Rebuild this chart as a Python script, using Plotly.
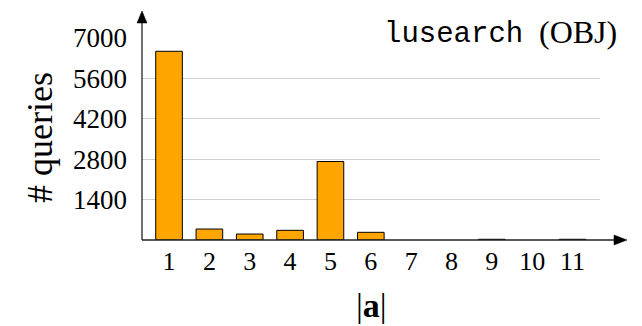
import plotly.graph_objects as go

# |a| sizes and the number of queries observed for each
sizes = [1, 2, 3, 4, 5, 6, 7, 8, 9, 10, 11]
queries = [6540, 380, 207, 335, 2720, 266, 0, 0, 25, 0, 25]
y_ticks = [1400, 2800, 4200, 5600, 7000]

W, H = 642, 326
L, R, T, B = 142, 42, 38, 86          # plot box: x 142..600, y 38..240
pw, ph = W - L - R, H - T - B

def px(x):   # pixel x -> paper
    return (x - L) / pw

def py(y):   # pixel y -> paper
    return (H - B - y) / ph

serif = "Liberation Serif"
mono = "Liberation Mono"

fig = go.Figure()
fig.add_trace(go.Bar(
    x=sizes, y=queries, width=0.66,
    marker=dict(color="#FFA500",
                line=dict(color="black", width=[1 if q > 0 else 0 for q in queries])),
))

fig.update_layout(
    width=W, height=H,
    margin=dict(l=L, r=R, t=T, b=B),
    paper_bgcolor="white", plot_bgcolor="white",
    showlegend=False,
    font=dict(family=serif, size=27, color="black"),
    xaxis=dict(range=[0.33, 11.68], tickvals=sizes, ticktext=[str(s) for s in sizes],
               showgrid=False, zeroline=False, showline=False, ticks="",
               ticklabelstandoff=3, tickfont=dict(family=serif, size=26)),
    yaxis=dict(range=[0, 7000], tickvals=y_ticks, showgrid=True,
               gridcolor="#cfcfcf", gridwidth=1, zeroline=False, showline=False,
               ticks="", ticklabelstandoff=14, tickfont=dict(family=serif, size=27)),
)

axis_col = "#222222"
# axis lines with arrowheads
fig.add_shape(type="line", xref="paper", yref="paper",
              x0=px(142), y0=py(240), x1=px(616), y1=py(240),
              line=dict(color=axis_col, width=1.3))
fig.add_shape(type="path", xref="paper", yref="paper",
              path=f"M {px(627)},{py(240)} L {px(614)},{py(235)} L {px(614)},{py(245)} Z",
              fillcolor="black", line=dict(color="black", width=0.5))
fig.add_shape(type="line", xref="paper", yref="paper",
              x0=px(142), y0=py(240), x1=px(142), y1=py(21),
              line=dict(color=axis_col, width=1.3))
fig.add_shape(type="path", xref="paper", yref="paper",
              path=f"M {px(142)},{py(11)} L {px(137)},{py(23)} L {px(147)},{py(23)} Z",
              fillcolor="black", line=dict(color="black", width=0.5))

# title inside the plot box: benchmark name in typewriter, kind in serif
fig.add_annotation(xref="paper", yref="paper", x=px(525), y=py(34),
                   xanchor="right", yanchor="middle", showarrow=False,
                   text="lusearch", font=dict(family=mono, size=29, color="black"))
fig.add_annotation(xref="paper", yref="paper", x=px(537), y=py(32),
                   xanchor="left", yanchor="middle", showarrow=False,
                   text="(OBJ)", font=dict(family=serif, size=32, color="black"))

# axis titles
fig.add_annotation(xref="paper", yref="paper", x=px(40), y=py(138),
                   xanchor="center", yanchor="middle", showarrow=False,
                   textangle=-90, text="# queries",
                   font=dict(family=serif, size=36, color="black"))
fig.add_annotation(xref="paper", yref="paper", x=px(371), y=py(305),
                   xanchor="center", yanchor="middle", showarrow=False,
                   text="|<b>a</b>|",
                   font=dict(family=serif, size=34, color="black"))

fig.write_html("out.html")
